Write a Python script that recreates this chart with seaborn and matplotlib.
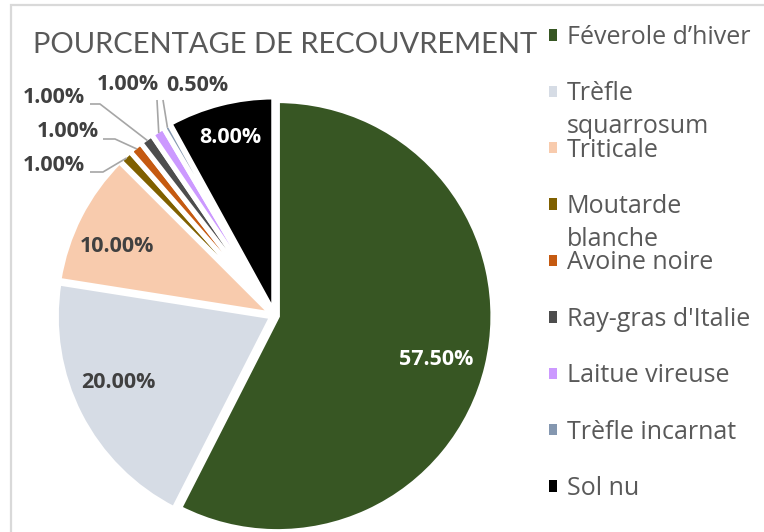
import matplotlib
matplotlib.use("Agg")
import matplotlib.pyplot as plt
from matplotlib.patches import Rectangle, Patch
import numpy as np
import seaborn as sns

# ---------------- data ----------------
categories = ["Féverole d’hiver", "Trèfle squarrosum", "Triticale", "Moutarde blanche",
              "Avoine noire", "Ray-gras d'Italie", "Laitue vireuse", "Trèfle incarnat", "Sol nu"]
values = [57.5, 20.0, 10.0, 1.0, 1.0, 1.0, 1.0, 0.5, 8.0]
colors = ["#375623", "#D6DCE5", "#F8CBAD", "#7F6000", "#C55A11",
          "#4D4D4D", "#CC99FF", "#8497B0", "#000000"]
legend_first = ["Féverole d’hiver", "Trèfle", "Triticale", "Moutarde", "Avoine noire",
                "Ray-gras d'Italie", "Laitue vireuse", "Trèfle incarnat", "Sol nu"]
legend_second = ["", "squarrosum", "", "blanche", "", "", "", "", ""]
title_text = "POURCENTAGE DE RECOUVREMENT"

# ---------------- style ----------------
sns.set_theme(style="white")
plt.rcParams["font.family"] = ["Lato", "DejaVu Sans"]

W, H = 764, 532
fig = plt.figure(figsize=(W / 100, H / 100), dpi=100)
fig.patch.set_facecolor("white")

# light grey frame (only top and left visible in the reference)
fig.add_artist(Rectangle((11 / W, -0.1), 1.2, 1 - 5 / H + 0.1, transform=fig.transFigure,
                         fill=False, edgecolor="#D9D9D9", lw=1.6))

# pie geometry in pixels
cx, cy, R, lim = 274.5, 315.4, 215.5, 1.3
edge_px = 5.0
ax = fig.add_axes([(cx - lim * R) / W, 1 - (cy + lim * R) / H, 2 * lim * R / W, 2 * lim * R / H])
explode = [3.0 / R] * len(values)
wedges, _ = ax.pie(values, colors=colors, startangle=90, counterclock=False,
                   explode=explode,
                   wedgeprops=dict(linewidth=edge_px * 72 / 100, edgecolor="white",
                                   joinstyle="miter"))


def px2d(px, py):
    return ((px - cx) / R, (cy - py) / R)


pct_fs = 15.5
pct_family = ["Open Sans", "DejaVu Sans"]
label_dark = "#404040"
# label placement (pixel positions of label centres) and colours
inside = {0: ("white", (436, 360)), 1: (label_dark, (118, 383)),
          2: (label_dark, (117, 247)), 8: ("white", (230, 138))}
# small slices: label centre and leader line start/elbow (pixels)
small = {
    3: ((54, 166), [(90, 172), (103, 172)]),
    4: ((68, 132), [(103, 139), (115, 139)]),
    5: ((54, 98), [(90, 104), (100, 104)]),
    6: ((128, 85), [(157, 100)]),
    7: ((197, 86), [(163, 100)]),
}
r_vis = 1 - (edge_px / 2) / R
for i, w in enumerate(wedges):
    mid = np.deg2rad((w.theta1 + w.theta2) / 2)
    wx, wy = w.center
    txt = f"{values[i]:.2f}%"
    if i in inside:
        col, pos = inside[i]
        tx, ty = px2d(*pos)
        ax.text(tx, ty, txt, ha="center", va="center", color=col,
                fontsize=pct_fs, fontweight="bold", family=pct_family)
    else:
        tpos, pts = small[i]
        ex, ey = wx + r_vis * np.cos(mid), wy + r_vis * np.sin(mid)
        dpts = [px2d(*p) for p in pts]
        xs = [p[0] for p in dpts] + [ex]
        ys = [p[1] for p in dpts] + [ey]
        ax.plot(xs, ys, color="#A6A6A6", lw=1.2, solid_capstyle="butt")
        tx, ty = px2d(*tpos)
        ax.text(tx, ty, txt, ha="center", va="center", color=label_dark,
                fontsize=pct_fs, fontweight="bold", family=pct_family)

ax.set_xlim(-lim, lim)
ax.set_ylim(-lim, lim)
ax.set_aspect("equal")
ax.axis("off")

# ---------------- title ----------------
fig.text(33 / W, 1 - 53 / H, title_text, ha="left", va="baseline", fontsize=21,
         color="#595959", fontweight="normal", family=["Lato", "DejaVu Sans"])

# ---------------- legend ----------------
leg_fs = 18
leg_prop = {"family": ["Open Sans", "DejaVu Sans"], "size": leg_fs}
handles = [Patch(facecolor=c, edgecolor="none") for c in colors]


def make_legend(ls, ay):
    return fig.legend(handles, legend_first, loc="upper left", bbox_to_anchor=(549 / W, ay),
                      frameon=False, prop=leg_prop, labelcolor="#595959",
                      handlelength=0.33, handleheight=0.33, handletextpad=0.38,
                      labelspacing=ls, borderpad=0, borderaxespad=0)


ls, ay = 1.1, 1 - 20 / H
target_first, target_last = 35.0, 486.0
leg = make_legend(ls, ay)
for _ in range(4):
    fig.canvas.draw()
    r = fig.canvas.get_renderer()
    hb = [h.get_window_extent(r) for h in leg.legend_handles]
    c0 = H - (hb[0].y0 + hb[0].y1) / 2
    cn = H - (hb[-1].y0 + hb[-1].y1) / 2
    spacing = (cn - c0) / 8
    want = (target_last - target_first) / 8
    ls += (want - spacing) / (leg_fs * 100 / 72)
    ay += (c0 - target_first) / H
    leg.remove()
    leg = make_legend(ls, ay)

fig.canvas.draw()
r = fig.canvas.get_renderer()
for i, extra in enumerate(legend_second):
    if extra:
        bb = leg.get_texts()[i].get_window_extent(r)
        fig.text(bb.x0 / W, (bb.y0 - 33) / H, extra, ha="left", va="bottom",
                 color="#595959", fontsize=leg_fs, family=["Open Sans", "DejaVu Sans"])

fig.savefig("out.png", dpi=100)
